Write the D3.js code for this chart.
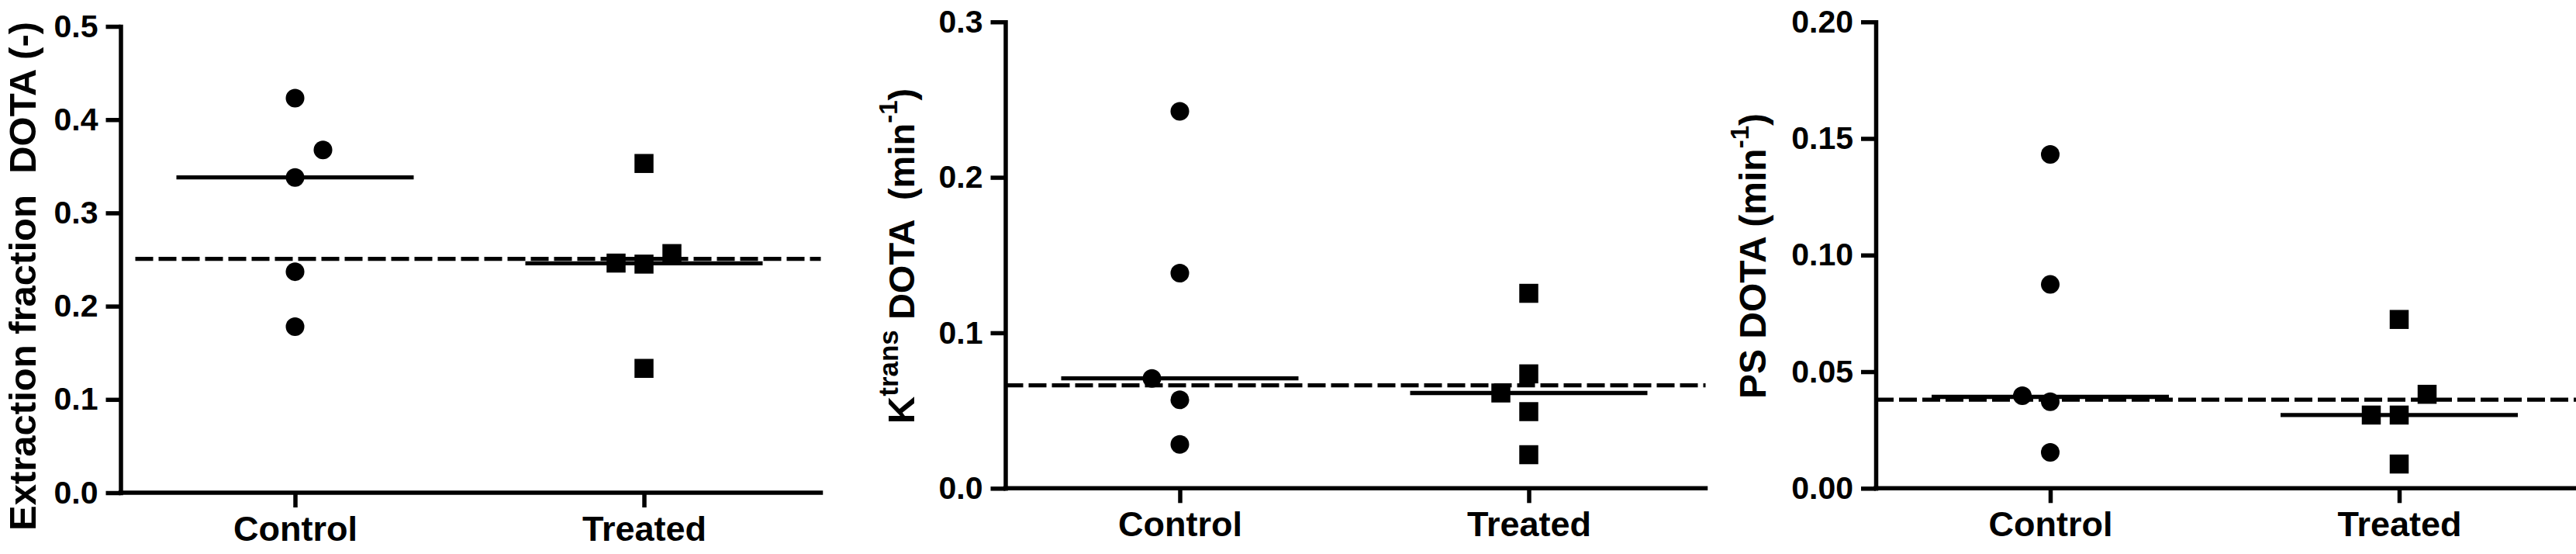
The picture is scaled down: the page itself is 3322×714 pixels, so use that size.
<!DOCTYPE html>
<html>
<head>
<meta charset="utf-8">
<script src="https://cdn.jsdelivr.net/npm/d3@7"></script>
<style>
  html, body { margin: 0; padding: 0; background: #fff; }
  svg { display: block; }
  text { font-family: "Liberation Sans", Arial, Helvetica, sans-serif; font-weight: bold; fill: #000; }
</style>
</head>
<body>
<svg id="chart" width="3322" height="714"></svg>
<script>
// ---------------- data ----------------
const categories = ["Control", "Treated"];

// Panel 1: Extraction fraction DOTA (-)
const efControl = [0.423, 0.3675, 0.338, 0.237, 0.178];
const efTreated = [0.353, 0.2564, 0.2462, 0.2451, 0.1333];
const efControlSlots = [0, 1, 0, 0, 0];
const efTreatedSlots = [0, 1, -1, 0, 0];
const efMedians = [0.338, 0.246];
const efReference = 0.2508;
const efTicks = [0, 0.1, 0.2, 0.3, 0.4, 0.5];
const efTickLabels = ["0.0", "0.1", "0.2", "0.3", "0.4", "0.5"];

// Panel 2: Ktrans DOTA (min-1)
const ktControl = [0.2425, 0.1384, 0.0707, 0.0569, 0.0282];
const ktTreated = [0.1254, 0.0736, 0.0613, 0.0493, 0.0216];
const ktControlSlots = [0, 0, -1, 0, 0];
const ktTreatedSlots = [0, 0, -1, 0, 0];
const ktMedians = [0.0707, 0.0613];
const ktReference = 0.0662;
const ktTicks = [0, 0.1, 0.2, 0.3];
const ktTickLabels = ["0.0", "0.1", "0.2", "0.3"];

// Panel 3: PS DOTA (min-1)
const psControl = [0.1432, 0.0874, 0.0397, 0.0371, 0.0154];
const psTreated = [0.0724, 0.0403, 0.0314, 0.0314, 0.0104];
const psControlSlots = [0, 0, -1, 0, 0];
const psTreatedSlots = [0, 1, -1, 0, 0];
const psMedians = [0.0392, 0.0314];
const psReference = 0.0380;
const psTicks = [0, 0.05, 0.10, 0.15, 0.20];
const psTickLabels = ["0.00", "0.05", "0.10", "0.15", "0.20"];

// ---------------- drawing ----------------
const svg = d3.select("#chart");
svg.append("rect").attr("width", 3322).attr("height", 714).attr("fill", "#fff");

const AXIS_W = 5.5;
const AXIS_LEN = 903;
const TICK = 19;
const MARK_R = 12;
const SQ = 24.5;
const SLOT_DX = 36;
const MED_HALF = 153;

function drawPanel(cfg) {
  const g = svg.append("g");
  const y = d3.scaleLinear().domain([cfg.ticks[0], cfg.ticks[cfg.ticks.length - 1]])
    .range([cfg.yBot, cfg.yTop]);
  const x = d3.scalePoint().domain(categories).range([cfg.x0, cfg.x0 + 900]).padding(0.5);

  // y axis
  const ya = g.append("g").attr("transform", `translate(${cfg.x0},0)`)
    .call(d3.axisLeft(y).tickValues(cfg.ticks).tickSize(TICK).tickSizeOuter(0).tickPadding(10)
      .tickFormat((d, i) => cfg.tickLabels[i]));
  ya.select(".domain").attr("stroke", "#000").attr("stroke-width", AXIS_W).attr("stroke-linecap", "square");
  ya.selectAll(".tick line").attr("stroke", "#000").attr("stroke-width", AXIS_W);
  ya.selectAll(".tick text").attr("font-size", 41).attr("font-family", null).attr("fill", "#000");

  // x axis
  const xa = g.append("g").attr("transform", `translate(0,${cfg.yBot})`)
    .call(d3.axisBottom(x).tickSize(TICK).tickSizeOuter(0).tickPadding(11));
  xa.select(".domain").attr("d", `M${cfg.x0},0H${cfg.x0 + AXIS_LEN}`)
    .attr("stroke", "#000").attr("stroke-width", AXIS_W).attr("stroke-linecap", "square");
  xa.selectAll(".tick line").attr("stroke", "#000").attr("stroke-width", AXIS_W);
  xa.selectAll(".tick text").attr("font-size", 45).attr("font-family", null).attr("fill", "#000");

  // median lines
  g.selectAll(".median").data(categories).enter().append("line")
    .attr("x1", d => x(d) - MED_HALF).attr("x2", d => x(d) + MED_HALF)
    .attr("y1", (d, i) => y(cfg.medians[i])).attr("y2", (d, i) => y(cfg.medians[i]))
    .attr("stroke", "#000").attr("stroke-width", 5.3);

  // dashed reference line
  g.append("line")
    .attr("x1", cfg.x0 + cfg.dashStart).attr("x2", cfg.x0 + AXIS_LEN)
    .attr("y1", y(cfg.reference)).attr("y2", y(cfg.reference))
    .attr("stroke", "#000").attr("stroke-width", 5.3).attr("stroke-dasharray", "23,7");

  // control circles
  const ctrl = cfg.control.map((v, i) => ({ v, s: cfg.controlSlots[i] }));
  g.selectAll(".ctrl").data(ctrl).enter().append("circle")
    .attr("cx", d => x(categories[0]) + d.s * SLOT_DX)
    .attr("cy", d => y(d.v)).attr("r", MARK_R).attr("fill", "#000");

  // treated squares
  const trt = cfg.treated.map((v, i) => ({ v, s: cfg.treatedSlots[i] }));
  g.selectAll(".trt").data(trt).enter().append("rect")
    .attr("x", d => x(categories[1]) + d.s * SLOT_DX - SQ / 2)
    .attr("y", d => y(d.v) - SQ / 2).attr("width", SQ).attr("height", SQ).attr("fill", "#000");
}

drawPanel({ x0: 155.5, yTop: 34, yBot: 635, ticks: efTicks, tickLabels: efTickLabels,
  control: efControl, treated: efTreated, controlSlots: efControlSlots, treatedSlots: efTreatedSlots,
  medians: efMedians, reference: efReference, dashStart: 19 });
drawPanel({ x0: 1296.5, yTop: 28.2, yBot: 629.3, ticks: ktTicks, tickLabels: ktTickLabels,
  control: ktControl, treated: ktTreated, controlSlots: ktControlSlots, treatedSlots: ktTreatedSlots,
  medians: ktMedians, reference: ktReference, dashStart: 0 });
drawPanel({ x0: 2419, yTop: 28.2, yBot: 629.3, ticks: psTicks, tickLabels: psTickLabels,
  control: psControl, treated: psTreated, controlSlots: psControlSlots, treatedSlots: psTreatedSlots,
  medians: psMedians, reference: psReference, dashStart: 0 });

// y-axis titles
function yTitle(tx, ty, anchor, parts) {
  const t = svg.append("text")
    .attr("transform", `translate(${tx},${ty}) rotate(-90)`)
    .attr("text-anchor", anchor)
    .style("white-space", "pre");
  parts.forEach(p => {
    const s = t.append("tspan").attr("font-size", p.size).text(p.text);
    if (p.dy) s.attr("dy", p.dy);
  });
}
yTitle(46, 684, "start", [{ text: "Extraction fraction  DOTA (-)", size: 49 }]);
yTitle(1179, 330, "middle", [
  { text: "K", size: 49 },
  { text: "trans", size: 35, dy: -21 },
  { text: " DOTA  (min", size: 47, dy: 21 },
  { text: "-1", size: 33, dy: -22 },
  { text: ")", size: 47, dy: 22 }
]);
yTitle(2277, 330, "middle", [
  { text: "PS DOTA (min", size: 48 },
  { text: "-1", size: 33, dy: -22 },
  { text: ")", size: 48, dy: 22 }
]);
</script>
</body>
</html>
